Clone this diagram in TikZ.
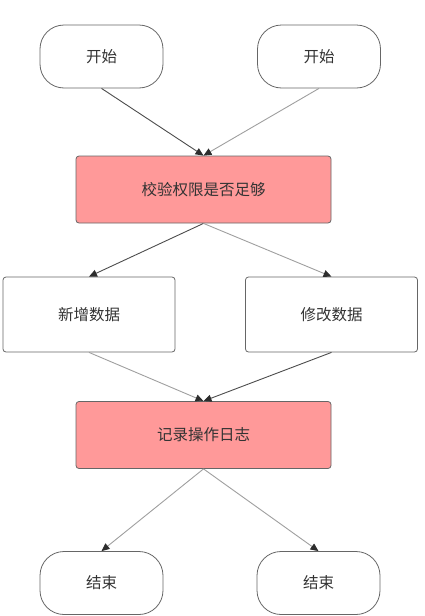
\documentclass[tikz,border=0pt]{standalone}
\usepackage{fontspec}
\setmainfont{Noto Sans CJK SC}
\usetikzlibrary{arrows.meta, positioning}
\definecolor{Rosa}{RGB}{255,153,153}
\definecolor{Borde}{RGB}{102,102,102}
\definecolor{Texto}{RGB}{51,51,51}
\definecolor{Punta}{RGB}{45,45,45}

\begin{document}
\begin{tikzpicture}[
  x=1pt, y=-1pt,
  font=\fontsize{15.5}{18}\selectfont, text=Texto,
  term/.style={draw=Borde, rounded corners=24pt, minimum width=123pt,
               minimum height=63pt, align=center, fill=white, line width=0.8pt},
  proc/.style={draw=Borde, rounded corners=3pt, minimum width=172pt,
               minimum height=75pt, align=center, fill=white, line width=0.8pt},
  hl/.style={draw=Borde, rounded corners=3pt, minimum width=255pt,
             minimum height=67pt, align=center, fill=Rosa, line width=0.8pt},
  arr/.style={-{Triangle[length=8pt, width=7pt, color=Punta]}, line width=0.9pt, draw=gray!60!black},
  arrl/.style={arr, draw=gray!75}
]
\useasboundingbox (0,0) rectangle (425,616);

%% ---- inicio ----
\node[term] (start1) at (101.5, 56.5) {开始};
\node[term] (start2) at (319, 56.5) {开始};

%% ---- permisos ----
\node[hl] (check) at (203.5, 189.5) {校验权限是否足够};

\draw[arr]  (start1.south) -- (check.north);
\draw[arrl] (start2.south) -- (check.north);

%% ---- operaciones ----
\node[proc] (add) at (89, 314.5) {新增数据};
\node[proc] (mod) at (331.5, 314.5) {修改数据};

\draw[arr]  (check.south) -- (add.north);
\draw[arrl] (check.south) -- (mod.north);

%% ---- registro ----
\node[hl] (log) at (203.5, 435) {记录操作日志};

\draw[arrl] (add.south) -- (log.north);
\draw[arr]  (mod.south) -- (log.north);

%% ---- fin ----
\node[term] (end1) at (101.5, 583) {结束};
\node[term] (end2) at (318.5, 583) {结束};

\draw[arrl] (log.south) -- (end1.north);
\draw[arrl] (log.south) -- (end2.north);

\end{tikzpicture}
\end{document}
